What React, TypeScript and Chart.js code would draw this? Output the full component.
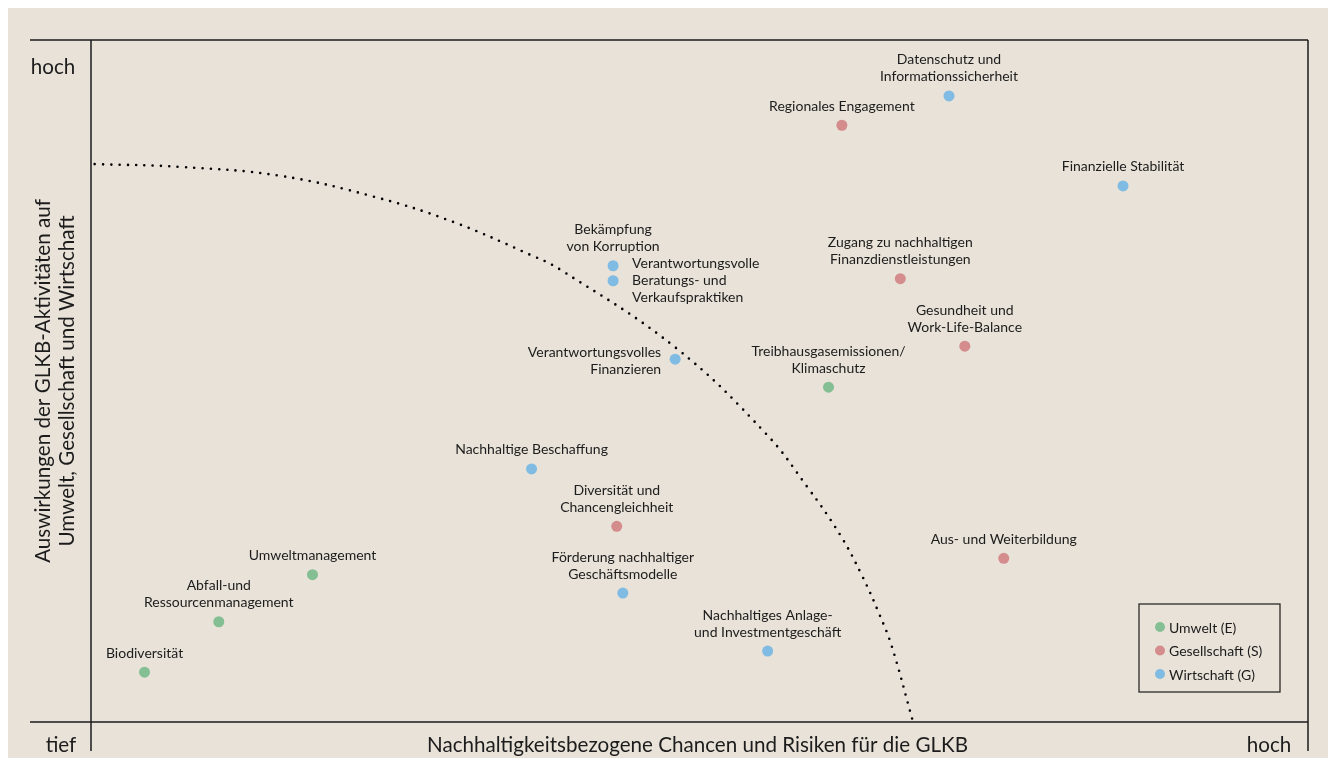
import React, { useEffect, useRef } from "react";
import { Chart, registerables } from "chart.js";

Chart.register(...registerables);

// ---- Data ----
const umweltNames = [
  "Treibhausgasemissionen/\nKlimaschutz",
  "Umweltmanagement",
  "Abfall-und\nRessourcenmanagement",
  "Biodiversität",
];
const umweltX = [6.06, 1.82, 1.05, 0.44];
const umweltY = [4.91, 2.16, 1.47, 0.73];
const umweltPlace = ["above", "above", "above", "above"];

const gesellschaftNames = [
  "Regionales Engagement",
  "Zugang zu nachhaltigen\nFinanzdienstleistungen",
  "Gesundheit und\nWork-Life-Balance",
  "Diversität und\nChancengleichheit",
  "Aus- und Weiterbildung",
];
const gesellschaftX = [6.17, 6.65, 7.18, 4.32, 7.5];
const gesellschaftY = [8.75, 6.5, 5.51, 2.87, 2.4];
const gesellschaftPlace = ["above", "above", "above", "above", "above"];

const wirtschaftNames = [
  "Datenschutz und\nInformationssicherheit",
  "Finanzielle Stabilität",
  "Bekämpfung\nvon Korruption",
  "Verantwortungsvolle\nBeratungs- und\nVerkaufspraktiken",
  "Verantwortungsvolles\nFinanzieren",
  "Nachhaltige Beschaffung",
  "Förderung nachhaltiger\nGeschäftsmodelle",
  "Nachhaltiges Anlage-\nund Investmentgeschäft",
];
const wirtschaftX = [7.05, 8.48, 4.29, 4.29, 4.8, 3.62, 4.37, 5.56];
const wirtschaftY = [9.18, 7.86, 6.69, 6.47, 5.32, 3.71, 1.89, 1.04];
const wirtschaftPlace = ["above", "above", "above", "right", "left", "above", "above", "above"];

// dotted threshold curve
const curveX = [0.03, 0.73, 1.55, 2.33, 2.98, 3.61, 3.85, 4.81, 5.55, 5.88, 6.15, 6.34, 6.48, 6.58, 6.75];
const curveY = [8.18, 8.14, 8.01, 7.7, 7.33, 6.85, 6.64, 5.48, 4.22, 3.46, 2.76, 2.13, 1.57, 1.11, 0.03];

const legendLabels = ["Umwelt (E)", "Gesellschaft (S)", "Wirtschaft (G)"];
const xTitle = "Nachhaltigkeitsbezogene Chancen und Risiken für die GLKB";
const yTitle = ["Auswirkungen der GLKB-Aktivitäten auf", "Umwelt, Gesellschaft und Wirtschaft"];
const xTickLow = "tief";
const xTickHigh = "hoch";
const yTickHigh = "hoch";

const COLORS = ["#84bf93", "#d48c8c", "#7fbbe2"];
const BG = "#e8e2d8";
const INK = "#1c1c1c";
const FONT = "Lato, 'Noto Sans', sans-serif";

const pts = (xs: number[], ys: number[]) => xs.map((x, i) => ({ x, y: ys[i] }));

const annotationPlugin = {
  id: "annot",
  beforeDraw(chart: any) {
    const { ctx, width, height } = chart;
    ctx.save();
    ctx.fillStyle = BG;
    ctx.fillRect(0, 0, width, height);
    ctx.restore();
  },
  afterDatasetsDraw(chart: any) {
    const { ctx, chartArea: ca, height } = chart;
    ctx.save();
    // frame lines
    ctx.strokeStyle = INK;
    ctx.lineWidth = 1.5;
    ctx.beginPath();
    ctx.moveTo(ca.left - 61, ca.top);
    ctx.lineTo(ca.right, ca.top);
    ctx.moveTo(ca.left - 61, ca.bottom);
    ctx.lineTo(ca.right, ca.bottom);
    ctx.moveTo(ca.left, ca.top);
    ctx.lineTo(ca.left, height - 7);
    ctx.moveTo(ca.right, ca.top);
    ctx.lineTo(ca.right, height - 7);
    ctx.stroke();

    // point labels
    ctx.fillStyle = INK;
    ctx.font = `14px ${FONT}`;
    const lh = 17;
    const groups = [
      { names: umweltNames, place: umweltPlace, idx: 0 },
      { names: gesellschaftNames, place: gesellschaftPlace, idx: 1 },
      { names: wirtschaftNames, place: wirtschaftPlace, idx: 2 },
    ];
    groups.forEach((g) => {
      const meta = chart.getDatasetMeta(g.idx);
      meta.data.forEach((el: any, i: number) => {
        const lines = g.names[i].split("\n");
        const mode = g.place[i];
        ctx.textBaseline = "middle";
        if (mode === "above") {
          ctx.textAlign = "center";
          lines.forEach((ln: string, k: number) => {
            const y = el.y - 19 - (lines.length - 1 - k) * lh;
            ctx.fillText(ln, el.x, y);
          });
        } else if (mode === "right") {
          ctx.textAlign = "left";
          lines.forEach((ln: string, k: number) => {
            const y = el.y + (k - (lines.length - 1) / 2) * lh;
            ctx.fillText(ln, el.x + 19, y);
          });
        } else {
          ctx.textAlign = "right";
          lines.forEach((ln: string, k: number) => {
            const y = el.y + 2 + (k - (lines.length - 1) / 2) * lh;
            ctx.fillText(ln, el.x - 14, y);
          });
        }
      });
    });

    // axis titles and end labels
    ctx.font = `20.6px ${FONT}`;
    ctx.textBaseline = "middle";
    ctx.textAlign = "center";
    ctx.fillText(xTitle, (ca.left + ca.right) / 2 - 2, ca.bottom + 23);
    ctx.fillText(xTickLow, ca.left - 30, ca.bottom + 23);
    ctx.fillText(xTickHigh, ca.right - 39, ca.bottom + 23);
    ctx.fillText(yTickHigh, ca.left - 38, ca.top + 27);
    ctx.save();
    ctx.translate(0, (ca.top + ca.bottom) / 2);
    ctx.rotate(-Math.PI / 2);
    ctx.fillText(yTitle[0], 0, ca.left - 48);
    ctx.fillText(yTitle[1], 0, ca.left - 24);
    ctx.restore();

    // legend box
    const bx = ca.right - 169;
    const by = ca.bottom - 118;
    const bw = 141;
    const bh = 88;
    ctx.strokeStyle = INK;
    ctx.lineWidth = 1.2;
    ctx.strokeRect(bx, by, bw, bh);
    ctx.font = `14px ${FONT}`;
    ctx.textAlign = "left";
    legendLabels.forEach((lab, i) => {
      const y = by + 23 + i * 23.5;
      ctx.fillStyle = COLORS[i];
      ctx.beginPath();
      ctx.arc(bx + 21, y, 5, 0, Math.PI * 2);
      ctx.fill();
      ctx.fillStyle = INK;
      ctx.fillText(lab, bx + 30, y + 1);
    });
    ctx.restore();
  },
};

export default function App() {
  const ref = useRef<HTMLCanvasElement | null>(null);
  useEffect(() => {
    if (!ref.current) return;
    const chart = new Chart(ref.current, {
      type: "scatter",
      data: {
        datasets: [
          {
            label: legendLabels[0],
            data: pts(umweltX, umweltY),
            backgroundColor: COLORS[0],
            borderWidth: 0,
            pointRadius: 5.5,
            order: 1,
          },
          {
            label: legendLabels[1],
            data: pts(gesellschaftX, gesellschaftY),
            backgroundColor: COLORS[1],
            borderWidth: 0,
            pointRadius: 5.5,
            order: 1,
          },
          {
            label: legendLabels[2],
            data: pts(wirtschaftX, wirtschaftY),
            backgroundColor: COLORS[2],
            borderWidth: 0,
            pointRadius: 5.5,
            order: 1,
          },
          {
            type: "line",
            label: "curve",
            data: pts(curveX, curveY),
            borderColor: "#000",
            borderWidth: 2.6,
            borderDash: [0, 8.3],
            borderCapStyle: "round",
            pointRadius: 0,
            tension: 0.4,
            fill: false,
            order: 5,
          } as any,
        ],
      },
      options: {
        animation: false,
        responsive: true,
        maintainAspectRatio: false,
        layout: { padding: { left: 83, top: 32, right: 20, bottom: 36 } },
        plugins: { legend: { display: false }, tooltip: { enabled: false } },
        scales: {
          x: { type: "linear", min: 0, max: 10, display: false },
          y: { type: "linear", min: 0, max: 10, display: false },
        },
      },
      plugins: [annotationPlugin],
    });
    return () => chart.destroy();
  }, []);
  return (
    <div style={{ width: "100%", height: 750, position: "relative" }}>
      <canvas ref={ref} />
    </div>
  );
}
